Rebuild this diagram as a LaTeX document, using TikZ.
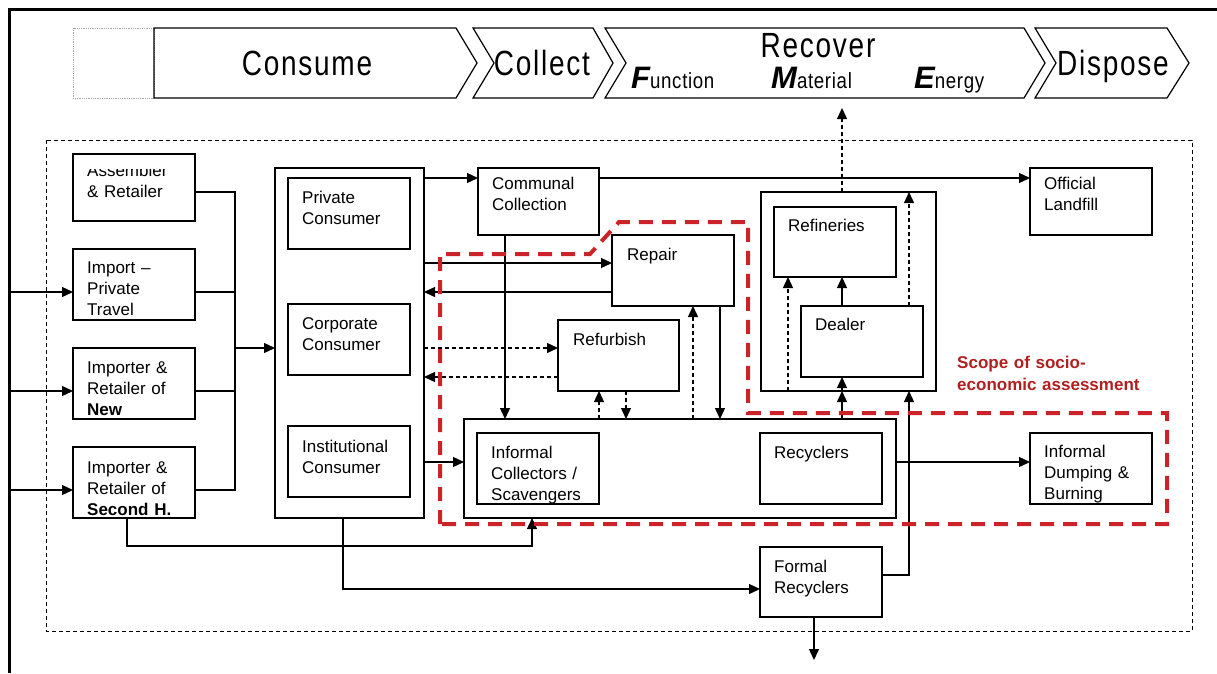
\documentclass[tikz,border=0pt]{standalone}
\usepackage{fontspec}
\setmainfont{Liberation Sans}
\newfontfamily\hdrfont[LetterSpace=5,FakeStretch=0.8]{Liberation Sans}
\newfontfamily\subfont[LetterSpace=3,FakeStretch=0.85]{Liberation Sans}
\usetikzlibrary{arrows.meta}
\definecolor{scopered}{RGB}{204,34,41}
\definecolor{scopetext}{RGB}{176,32,32}
\newcommand\mkbox[5]{\node[box, minimum width={(#4-#2)*1pt}, minimum height={(#5-#3)*1pt}] (#1) at ({(#2+#4)/2},{(#3+#5)/2}) {};}
\newcommand\mklbl[4]{\node[lbl] (#1) at (#2,#3) {#4};}
\newcommand\bigFME{\fontsize{31}{31}\selectfont\bfseries\itshape}
\newcommand\subsz{\subfont\fontsize{22}{22}\selectfont}
\begin{document}
\begin{tikzpicture}[x=1pt,y=-1pt,
  box/.style={draw, line width=1.8pt, inner sep=0pt, outer sep=0pt},
  lbl/.style={inner sep=0pt, anchor=base west, align=left, text width=106pt, font=\fontsize{17}{21}\selectfont},
  conn/.style={line width=1.3pt},
  arr/.style={conn, -{Triangle[length=11pt,width=10pt]}},
  dsh/.style={dash pattern=on 4pt off 3pt},
  chev/.style={draw, line width=1.2pt},
  hdr/.style={inner sep=0pt, anchor=base, font=\hdrfont\fontsize{35}{35}\selectfont},
  redline/.style={draw=scopered, line width=4pt, dash pattern=on 14pt off 9pt},
]
\useasboundingbox (0,0) rectangle (1217,673);
% outer frame
\draw[line width=3pt] (9.5,673) -- (9.5,9.5) -- (1217,9.5);
% header chevrons
\draw[gray!70, line width=0.8pt, densely dotted] (73,28) rectangle (154,98);
\draw[chev] (154,28) -- (456,28) -- (477,63) -- (456,98) -- (154,98) -- cycle;
\draw[chev] (473,28) -- (593,28) -- (613,63) -- (593,98) -- (473,98) -- (494,63) -- cycle;
\draw[chev] (605,28) -- (1024,28) -- (1045,63) -- (1024,98) -- (605,98) -- (626,63) -- cycle;
\draw[chev] (1035,28) -- (1167,28) -- (1189,63) -- (1167,98) -- (1035,98) -- (1056,63) -- cycle;
\node[hdr] (hcons) at (307,75) {Consume};
\node[hdr] (hcoll) at (542,75) {Collect};
\node[hdr] (hrec) at (818,57) {Recover};
\node[hdr] (hdisp) at (1113,75) {Dispose};
\node[inner sep=0pt, anchor=base west] (hfun) at (631,88) {{\bigFME F}{\subsz unction}};
\node[inner sep=0pt, anchor=base west] (hmat) at (771,88) {{\bigFME M}{\subsz aterial}};
\node[inner sep=0pt, anchor=base west] (hene) at (914,88) {{\bigFME E}{\subsz nergy}};
% dashed system boundary
\draw[line width=1pt, dsh] (46,140) rectangle (1192,631);
% boxes
\mkbox{asm}{73}{154}{195}{221}
\mkbox{imp}{73}{249}{195}{320}
\mkbox{new}{73}{348}{195}{419}
\mkbox{sec}{73}{447}{195}{518}
\mkbox{cons}{275}{168}{424}{518}
\mkbox{priv}{288}{178}{410}{249}
\mkbox{corp}{288}{304}{410}{375}
\mkbox{inst}{288}{426}{410}{497}
\mkbox{comm}{478}{168}{599}{235}
\mkbox{rep}{612}{235}{734}{306}
\mkbox{ref}{558}{320}{679}{391}
\mkbox{infbig}{464}{419}{896}{518}
\mkbox{infc}{477}{433}{599}{504}
\mkbox{recy}{760}{433}{882}{504}
\mkbox{cont}{761}{192}{936}{391}
\mkbox{refin}{774}{207}{896}{277}
\mkbox{deal}{801}{306}{923}{377}
\mkbox{land}{1030}{168}{1152}{235}
\mkbox{dump}{1030}{433}{1152}{504}
\mkbox{formal}{760}{547}{882}{617}
% labels
\begin{scope}
\clip (73,169.5) rectangle (195,221);
\mklbl{asmt}{87}{176}{Assembler\\\& Retailer}
\end{scope}
\mklbl{impt}{87}{273}{Import –\\Private\\Travel}
\mklbl{newt}{87}{373}{Importer \&\\Retailer of\\\textbf{New}}
\mklbl{sect}{87}{473}{Importer \&\\Retailer of\\\textbf{Second H.}}
\mklbl{privt}{302}{203}{Private\\Consumer}
\mklbl{corpt}{302}{329}{Corporate\\Consumer}
\mklbl{instt}{302}{452}{Institutional\\Consumer}
\mklbl{commt}{492}{189}{Communal\\Collection}
\mklbl{rept}{627}{260}{Repair}
\mklbl{reft}{573}{345}{Refurbish}
\mklbl{infct}{491}{458}{Informal\\Collectors /\\Scavengers}
\mklbl{recyt}{774}{458}{Recyclers}
\mklbl{refint}{788}{231}{Refineries}
\mklbl{dealt}{815}{330}{Dealer}
\mklbl{landt}{1044}{189}{Official\\Landfill}
\mklbl{dumpt}{1044}{457}{Informal\\Dumping \&\\Burning}
\mklbl{formt}{774}{572}{Formal\\Recyclers}
% connectors from the frame
\coordinate (f1) at (9.5,292);
\coordinate (f2) at (9.5,391);
\coordinate (f3) at (9.5,490);
\draw[arr] (f1) -- (f1 -| imp.west);
\draw[arr] (f2) -- (f2 -| new.west);
\draw[arr] (f3) -- (f3 -| sec.west);
% supply bus
\coordinate (bus) at (235,348);
\draw[conn] (asm.east |- 0,192) -- (235,192) -- (235,490) -- (sec.east |- 0,490);
\draw[conn] (imp.east |- 0,292) -- (235,292);
\draw[conn] (new.east |- 0,391) -- (235,391);
\draw[arr] (bus) -- (bus -| cons.west);
% consumers
\draw[arr] (cons.east |- 0,178) -- (comm.west |- 0,178);
\draw[arr] (comm.east |- 0,178) -- (land.west |- 0,178);
\draw[arr] (cons.east |- 0,263) -- (rep.west |- 0,263);
\draw[arr] (rep.west |- 0,292) -- (cons.east |- 0,292);
\draw[arr,dsh] (cons.east |- 0,348) -- (ref.west |- 0,348);
\draw[arr,dsh] (ref.west |- 0,377) -- (cons.east |- 0,377);
\draw[arr] (cons.east |- 0,462) -- (infbig.west |- 0,462);
\draw[arr] (comm.south -| 505,0) -- (infbig.north -| 505,0);
% repair / refurbish
\draw[arr,dsh] (infbig.north -| 599,0) -- (ref.south -| 599,0);
\draw[arr,dsh] (ref.south -| 626,0) -- (infbig.north -| 626,0);
\draw[arr,dsh] (infbig.north -| 693,0) -- (rep.south -| 693,0);
\draw[arr] (rep.south -| 720,0) -- (infbig.north -| 720,0);
% recovery
\draw[arr] (infbig.north -| 842,0) -- (cont.south -| 842,0);
\draw[arr] (cont.south -| 842,0) -- (deal.south -| 842,0);
\draw[arr] (deal.north -| 842,0) -- (refin.south -| 842,0);
\draw[arr,dsh] (cont.south -| 788,0) -- (refin.south -| 788,0);
\draw[arr,dsh] (deal.north -| 909,0) -- (cont.north -| 909,0);
\coordinate (hdrtip) at (842,108);
\draw[arr,dsh] (cont.north -| 842,0) -- (hdrtip);
\draw[arr] (formal.east |- 0,575) -- (909,575) -- (cont.south -| 909,0);
% disposal
\draw[arr] (infbig.east |- 0,462) -- (dump.west |- 0,462);
\draw[arr] (sec.south -| 127,0) -- (127,546) -- (532,546) -- (infbig.south -| 532,0);
\draw[arr] (cons.south -| 343,0) -- (343,589) -- (formal.west |- 0,589);
\coordinate (outdown) at (814,660);
\draw[arr] (formal.south -| 814,0) -- (outdown);
% scope of assessment
\draw[redline] (440,524) -- (440,254) -- (590,254) -- (619,222) -- (748,222) -- (748,413) -- (1167,413) -- (1167,524) -- cycle;
\node[inner sep=0pt, anchor=base west, align=left, text width=250pt, font=\bfseries\fontsize{17}{22}\selectfont, text=scopetext] (scopet) at (957,368) {Scope of socio-\\economic assessment};
\end{tikzpicture}
\end{document}
